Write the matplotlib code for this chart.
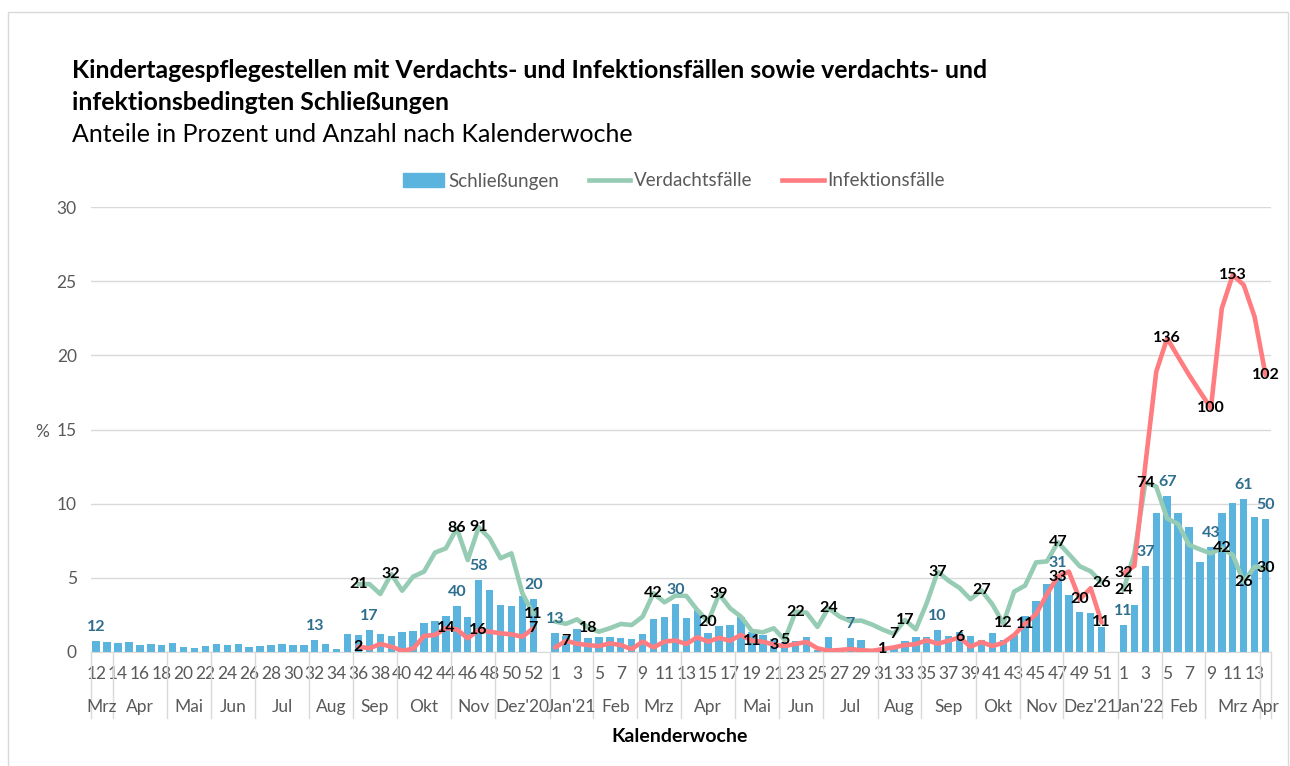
import numpy as np
import matplotlib.pyplot as plt
from matplotlib.patches import Patch, Rectangle
from matplotlib.lines import Line2D
from matplotlib.transforms import blended_transform_factory

plt.rcParams['font.family'] = ['Lato', 'DejaVu Sans']

# Kalenderwochen
weeks_2020 = list(range(12, 54))
weeks_2021 = list(range(1, 53))
weeks_2022 = list(range(1, 15))

# Monatsgruppen (Name, Anzahl Wochen)
months = [("Mrz", 2), ("Apr", 5), ("Mai", 4), ("Jun", 4), ("Jul", 5), ("Aug", 4),
          ("Sep", 4), ("Okt", 5), ("Nov", 4), ("Dez'20", 5),
          ("Jan'21", 4), ("Feb", 4), ("Mrz", 4), ("Apr", 5), ("Mai", 4), ("Jun", 4),
          ("Jul", 5), ("Aug", 4), ("Sep", 5), ("Okt", 4), ("Nov", 4), ("Dez'21", 5),
          ("Jan'22", 4), ("Feb", 4), ("Mrz", 5), ("Apr", 1)]

N = None
# Schliessungen in %
schl_2020 = [0.74, 0.67, 0.61, 0.67, 0.50, 0.54, 0.50, 0.61, 0.31, 0.29, 0.43, 0.54,
             0.50, 0.54, 0.31, 0.43, 0.50, 0.54, 0.50, 0.50, 0.81, 0.56, 0.22, 1.19,
             1.13, 1.48, 1.23, 1.08, 1.35, 1.44, 1.98, 2.11, 2.45, 3.13, 2.38, 4.85,
             4.18, 3.20, 3.08, 3.80, 3.60, N]
schl_2021 = [1.28, 1.05, 1.53, 0.96, 0.98, 1.02, 0.92, 0.85, 1.22, 2.23, 2.36, 3.24,
             2.30, 2.83, 1.30, 1.75, 1.84, 2.33, 1.35, 1.17, 0.87, 0.70, 0.74, 1.03,
             0.15, 0.99, 0.25, 0.94, 0.82, 0.10, 0.12, 0.30, 0.74, 0.99, 1.03, 1.50,
             1.08, 1.33, 1.08, 0.81, 1.30, 0.81, 1.13, 2.45, 3.42, 4.56, 5.08, 3.84,
             2.71, 2.61, 1.70, N]
schl_2022 = [1.80, 3.17, 5.82, 9.35, 10.52, 9.35, 8.45, 6.09, 7.06, 9.35, 10.03, 10.30,
             9.12, 9.00]

# Verdachtsfaelle in %
verd_2020 = [N] * 24 + [4.58, 4.58, 3.91, 5.26, 4.13, 5.08, 5.42, 6.70, 6.99, 8.34,
                        6.20, 8.41, 7.67, 6.32, 6.65, 3.96, 2.56, N]
verd_2021 = [2.05, 1.90, 2.20, 1.65, 1.37, 1.60, 1.89, 1.82, 2.38, 3.96, 3.35, 3.80,
             3.78, 2.83, 2.05, 3.91, 2.95, 2.38, 1.42, 1.33, 1.60, 0.81, 2.72, 2.65,
             1.69, 2.97, 2.40, 2.08, 2.12, 1.85, 1.50, 1.22, 2.16, 1.53, 3.30, 5.42,
             4.80, 4.32, 3.56, 4.15, 3.22, 1.93, 4.07, 4.48, 6.04, 6.11, 7.40, 6.60,
             5.78, 5.44, 4.68, N]
verd_2022 = [4.18, 6.65, 11.42, 11.15, 9.00, 8.63, 7.22, 6.92, 6.65, 6.99, 6.54, 4.74,
             5.75, 5.64]

# Infektionsfaelle in %
infe_2020 = [N] * 24 + [0.36, 0.25, 0.54, 0.36, 0.08, 0.22, 1.08, 1.15, 1.60, 1.53,
                        0.92, 1.48, 1.37, 1.26, 1.19, 1.03, 1.60, N]
infe_2021 = [0.31, 0.75, 0.56, 0.47, 0.40, 0.58, 0.47, 0.19, 0.70, 0.31, 0.70, 0.78,
             0.54, 0.99, 0.70, 0.95, 0.76, 1.15, 0.76, 0.70, 0.50, 0.40, 0.54, 0.68,
             0.25, 0.09, 0.13, 0.20, 0.12, 0.08, 0.20, 0.31, 0.47, 0.53, 0.79, 0.56,
             0.76, 0.98, 0.36, 0.67, 0.40, 0.62, 1.15, 1.91, 2.55, 3.90, 5.08, 5.42,
             3.55, 4.30, 2.00, N]
infe_2022 = [5.30, 5.80, 12.60, 18.90, 21.15, 19.90, 18.68, 17.55, 16.43, 23.17, 25.42,
             24.75, 22.60, 18.68]

# Anzahlen (Datenbeschriftungen)
schl_labels = {(2020, 12): "12", (2020, 32): "13", (2020, 37): "17", (2020, 45): "40",
               (2020, 47): "58", (2020, 52): "20", (2021, 1): "13", (2021, 12): "30",
               (2021, 28): "7", (2021, 36): "10", (2021, 47): "31", (2022, 1): "11",
               (2022, 3): "37", (2022, 5): "67", (2022, 9): "43", (2022, 12): "61",
               (2022, 14): "50"}
verd_labels = {(2020, 36): "21", (2020, 39): "32", (2020, 45): "86", (2020, 47): "91",
               (2020, 52): "11", (2021, 4): "18", (2021, 10): "42", (2021, 15): "20",
               (2021, 16): "39", (2021, 22): "5", (2021, 23): "22", (2021, 26): "24",
               (2021, 32): "7", (2021, 33): "17", (2021, 36): "37", (2021, 40): "27",
               (2021, 42): "12", (2021, 47): "47", (2021, 51): "26", (2022, 1): "24",
               (2022, 3): "74", (2022, 10): "42", (2022, 12): "26", (2022, 14): "30"}
infe_labels = {(2020, 36): "2", (2020, 44): "14", (2020, 47): "16", (2020, 52): "7",
               (2021, 2): "7", (2021, 19): "11", (2021, 21): "3", (2021, 31): "1",
               (2021, 38): "6", (2021, 44): "11", (2021, 47): "33", (2021, 49): "20",
               (2021, 51): "11", (2022, 1): "32", (2022, 5): "136", (2022, 9): "100",
               (2022, 11): "153", (2022, 14): "102"}

BLUE = '#5ab4de'
GREEN = '#96cbb4'
RED = '#ff7c80'
GREY = '#595959'
LIGHT = '#d9d9d9'


def to_arr(vals):
    return np.array([np.nan if v is None else v for v in vals], dtype=float)


cats = ([(2020, w) for w in weeks_2020] + [(2021, w) for w in weeks_2021]
        + [(2022, w) for w in weeks_2022])
schl = to_arr(schl_2020 + schl_2021 + schl_2022)
verd = to_arr(verd_2020 + verd_2021 + verd_2022)
infe = to_arr(infe_2020 + infe_2021 + infe_2022)
x = np.arange(len(cats))

fig = plt.figure(figsize=(12.9, 7.66), dpi=100)
fig.patches.append(Rectangle((8 / 1290, -0.01), 1280 / 1290, 1 - 12 / 766 + 0.01,
                             transform=fig.transFigure, fill=False, edgecolor=LIGHT, lw=1))
ax = fig.add_axes([90.7 / 1290, 1 - 652 / 766, (1271 - 90.7) / 1290, 445 / 766])

ax.bar(x, np.nan_to_num(schl), width=0.68, color=BLUE, zorder=2)
ax.plot(x, verd, color=GREEN, lw=3.3, zorder=3, solid_joinstyle='round', solid_capstyle='round')
ax.plot(x, infe, color=RED, lw=3.3, zorder=4, solid_joinstyle='round', solid_capstyle='round')

for key, txt in schl_labels.items():
    i = cats.index(key)
    ax.annotate(txt, (i, schl[i]), xytext=(0, 5), textcoords='offset points', ha='center',
                va='bottom', color='#2e6e8e', fontweight='bold', fontsize=11.5, zorder=6)
for labels, vals in ((verd_labels, verd), (infe_labels, infe)):
    for key, txt in labels.items():
        i = cats.index(key)
        ax.text(i, vals[i], txt, ha='center', va='center', color='black',
                fontweight='bold', fontsize=11.5, zorder=6)

ax.set_xlim(-0.5, len(cats) - 0.5)
ax.set_ylim(0, 30)
ax.set_yticks(range(0, 31, 5))
ax.yaxis.grid(True, color=LIGHT, lw=1)
ax.set_axisbelow(True)
for s in ('top', 'right', 'left'):
    ax.spines[s].set_visible(False)
ax.spines['bottom'].set_color(LIGHT)
ax.tick_params(axis='y', length=0, labelcolor=GREY, labelsize=12.5, pad=10)
ax.set_xticks(x[::2])
ax.set_xticklabels([str(w) for _, w in cats[::2]])
ax.tick_params(axis='x', length=0, labelcolor=GREY, labelsize=12.5, pad=10)

trans = blended_transform_factory(ax.transData, ax.transAxes)
start = -0.5
ax.plot([start, start], [0, -0.148], transform=trans, color=LIGHT, lw=1, clip_on=False)
for name, n in months:
    end = start + n
    ax.plot([end, end], [0, -0.148], transform=trans, color=LIGHT, lw=1, clip_on=False)
    ax.text((start + end) / 2, -0.1236, name, transform=trans, ha='center', va='center',
            color=GREY, fontsize=12.5)
    start = end

fig.text(680 / 1290, 1 - 737 / 766, "Kalenderwoche", ha='center', va='center',
         fontweight='bold', fontsize=14)
fig.text(42 / 1290, 1 - 432 / 766, "%", ha='center', va='center', color=GREY, fontsize=12.5)

fig.text(72 / 1290, 1 - 70 / 766,
         "Kindertagespflegestellen mit Verdachts- und Infektionsfällen sowie verdachts- und",
         ha='left', va='center', fontweight='bold', fontsize=17.9)
fig.text(72 / 1290, 1 - 102 / 766, "infektionsbedingten Schließungen",
         ha='left', va='center', fontweight='bold', fontsize=17.9)
fig.text(72 / 1290, 1 - 134 / 766, "Anteile in Prozent und Anzahl nach Kalenderwoche",
         ha='left', va='center', fontsize=18)

handles = [Patch(color=BLUE), Line2D([], [], color=GREEN, lw=3.3),
           Line2D([], [], color=RED, lw=3.3)]
fig.legend(handles, ["Schließungen", "Verdachtsfälle", "Infektionsfälle"], loc='center',
           bbox_to_anchor=(674 / 1290, 1 - 181 / 766), ncol=3, frameon=False, fontsize=13.5,
           handlelength=2.2, handletextpad=0.2, columnspacing=1.6, labelcolor=GREY)

fig.savefig('out.png', dpi=100)
